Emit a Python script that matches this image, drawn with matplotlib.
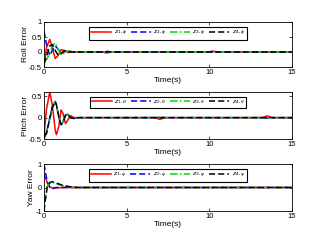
import matplotlib
matplotlib.use("Agg")
import matplotlib.pyplot as plt

# ---- data ----
t_roll = [0, 0.15, 0.35, 0.5, 0.68, 0.85, 1.05, 1.25, 1.45, 1.7, 2.0, 3.5, 3.8, 4.1, 9.9, 10.2, 10.5, 15]
roll_1 = [-0.5, 0.15, 0.42, 0.15, -0.22, -0.12, 0.08, 0.04, -0.02, 0.01, 0, 0, -0.03, 0, 0, 0.03, 0, 0]
roll_2 = [0.7, 0.25, -0.12, 0.05, 0.2, 0.1, -0.05, 0.02, 0.02, 0.0, 0, 0, 0.02, 0, 0, 0, 0, 0]
roll_3 = [-0.3, -0.25, -0.05, 0.2, 0.3, 0.1, -0.1, -0.03, 0.04, 0.01, 0, 0, 0.02, 0, 0, 0.01, 0, 0]
roll_4 = [-0.4, -0.15, 0.2, 0.25, 0.05, -0.1, -0.04, 0.05, 0.02, 0.0, 0, 0, 0.01, 0, 0, 0, 0, 0]

t_pitch = [0, 0.15, 0.35, 0.5, 0.68, 0.75, 0.9, 1.03, 1.15, 1.3, 1.45, 1.6, 1.8, 2.1, 6.7, 7.0, 7.3, 13.2, 13.5, 13.8, 15]
pitch_1 = [-0.42, 0.2, 0.6, 0.3, -0.3, -0.4, -0.2, 0.18, 0.1, -0.14, -0.05, 0.05, 0.0, 0, 0, -0.04, 0, 0, 0.04, 0, 0]
pitch_2 = [-0.5, -0.35, 0.0, 0.25, 0.38, 0.3, 0.0, -0.18, -0.1, 0.06, 0.08, 0.0, -0.02, 0, 0, 0.01, 0, 0, -0.01, 0, 0]
pitch_3 = [-0.3, -0.35, -0.05, 0.22, 0.36, 0.3, 0.02, -0.15, -0.1, 0.05, 0.07, 0.0, -0.02, 0, 0, 0.02, 0, 0, 0.0, 0, 0]
pitch_4 = [-0.4, -0.38, -0.02, 0.24, 0.37, 0.3, 0.01, -0.16, -0.1, 0.05, 0.07, 0, -0.02, 0, 0, 0, 0, 0, 0, 0, 0]

t_yaw = [0, 0.1, 0.2, 0.35, 0.5, 0.7, 0.9, 1.2, 1.6, 2.0, 15]
yaw_1 = [0.5, 0.4, 0.2, 0.03, -0.02, -0.02, -0.01, 0, 0, 0, 0]
yaw_2 = [1.0, 0.6, 0.25, 0.0, -0.06, 0.0, 0.0, 0, 0, 0, 0]
yaw_3 = [-0.6, -0.35, 0.05, 0.22, 0.22, 0.18, 0.12, 0.06, 0.02, 0, 0]
yaw_4 = [-1.0, -0.45, 0.05, 0.2, 0.25, 0.2, 0.15, 0.08, 0.03, 0, 0]

xticks = [0, 5, 10, 15]
roll_yticks = [-0.5, 0, 0.5, 1]
pitch_yticks = [-0.5, 0, 0.5]
yaw_yticks = [-1, 0, 1]

plt.rcParams['font.family'] = ['Liberation Sans', 'DejaVu Sans']

colors = ['red', 'blue', '#00dd00', 'black']
styles = ['-', (0, (4, 2)), (0, (5, 1.5, 1, 1.5)), (0, (4, 2))]

fig = plt.figure(figsize=(3.15, 2.43), dpi=100)
left, width = 44/315, 248/315
specs = [
    (1-67/243, 45/243, t_roll, [roll_1, roll_2, roll_3, roll_4], r'\phi', 'Roll Error', (-0.5, 1), roll_yticks),
    (1-139/243, 47/243, t_pitch, [pitch_1, pitch_2, pitch_3, pitch_4], r'\theta', 'Pitch Error', (-0.5, 0.6), pitch_yticks),
    (1-211/243, 47/243, t_yaw, [yaw_1, yaw_2, yaw_3, yaw_4], r'\psi', 'Yaw Error', (-1, 1), yaw_yticks),
]
for bottom, h, t, series, sym, ylab, ylim, yt in specs:
    ax = fig.add_axes([left, bottom, width, h])
    for i, (y, c, ls) in enumerate(zip(series, colors, styles)):
        ax.plot(t, y, color=c, linestyle=ls, lw=1.1, label=r'$z_{%d,%s}$' % (i+1, sym))
    ax.set_xlim(0, 15)
    ax.set_ylim(*ylim)
    ax.set_xticks(xticks)
    ax.set_yticks(yt)
    ax.set_yticklabels([('%g' % v) for v in yt])
    ax.tick_params(direction='in', length=2, width=0.5, labelsize=5.5, top=True, right=True, pad=1.5)
    for s in ax.spines.values():
        s.set_linewidth(0.6)
    ax.set_xlabel('Time(s)', fontsize=6, labelpad=1)
    ax.set_ylabel(ylab, fontsize=6, labelpad=0)
    leg = ax.legend(loc='upper center', bbox_to_anchor=(0.5, 0.96), ncol=4, fontsize=4.5,
                    handlelength=3.2, handletextpad=0.4, columnspacing=0.6, borderpad=0.3,
                    fancybox=False, framealpha=1)
    leg.get_frame().set_edgecolor('black')
    leg.get_frame().set_linewidth(0.8)

fig.savefig('out.png', dpi=100)
